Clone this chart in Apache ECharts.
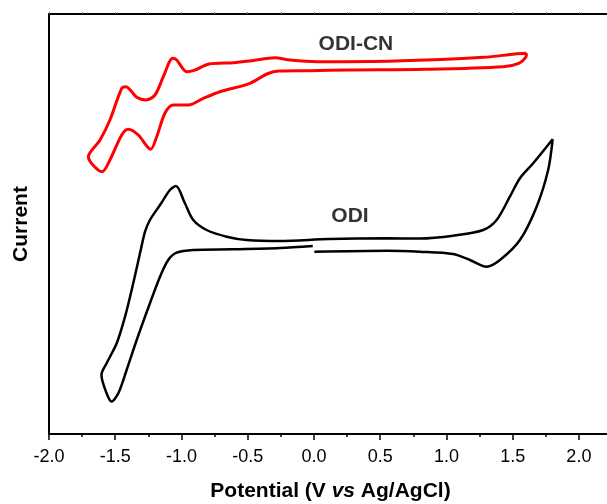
<!DOCTYPE html>
<html>
<head>
<meta charset="utf-8">
<script src="https://cdn.jsdelivr.net/npm/echarts@6/dist/echarts.min.js"></script>
<style>
	html,body{margin:0;padding:0;background:#fff;}
	#cvMain{width:607px;height:504px;}
</style>
</head>
<body>
<div id="cvMain"></div>
<script>
// potential (V vs Ag/AgCl), current (arb. units)
var odiCnCurve = [
	[1.604,38.07],[1.517,38.0],[1.283,37.67],[0.611,37.3],[0.026,37.23],[-0.181,37.4],
	[-0.294,37.63],[-0.471,37.33],[-0.609,37.13],[-0.792,37.0],[-0.911,36.33],[-0.961,36.23],
	[-1.036,37.4],[-1.066,37.57],[-1.137,35.73],[-1.2,33.9],[-1.268,33.4],[-1.338,33.67],
	[-1.419,34.73],[-1.451,34.57],[-1.54,31.4],[-1.615,29.4],[-1.703,27.73],
	[-1.598,26.23],[-1.54,27.4],[-1.451,29.9],[-1.402,30.47],[-1.326,29.9],[-1.258,28.73],
	[-1.232,28.47],[-1.187,29.73],[-1.125,32.07],[-1.062,32.9],[-0.949,32.9],[-0.835,33.57],
	[-0.709,34.23],[-0.483,35.07],[-0.355,36.0],[-0.266,36.3],[-0.03,36.33],[0.26,36.4],
	[0.845,36.47],[1.429,36.73],[1.546,37.07],[1.6,37.7],[1.604,38.07]
];
var odiCurve = [
	[-0.009,18.8],[-0.257,18.6],[-0.617,18.47],[-0.911,18.4],[-1.036,18.13],[-1.1,17.4],
	[-1.162,15.73],[-1.238,13.07],[-1.338,9.4],[-1.414,6.4],[-1.477,4.07],[-1.528,3.25],
	[-1.565,4.07],[-1.604,5.9],[-1.565,7.07],[-1.489,9.07],[-1.426,11.73],[-1.364,15.07],
	[-1.313,18.07],[-1.275,20.23],[-1.238,21.4],[-1.162,22.9],[-1.087,24.4],[-1.042,24.8],
	[-0.974,23.07],[-0.911,21.4],[-0.81,20.4],[-0.659,19.73],[-0.508,19.4],[-0.257,19.3],
	[0.113,19.5],[0.551,19.57],[0.8,19.55],[1.051,19.83],[1.278,20.4],[1.379,21.4],
	[1.479,23.73],[1.555,25.57],[1.655,27.07],[1.802,29.47],[1.768,26.4],[1.681,22.73],
	[1.555,19.4],[1.404,17.4],[1.303,16.73],[1.177,17.4],[1.051,18.0],[0.8,18.23],
	[0.551,18.33],[0.003,18.23]
];
var curveLabels = [
	['ODI-CN',0.317,39.0],
	['ODI',0.272,21.8]
];
var xTicks = {min:-2, max:2.25, step:0.5};

var init = function(){
	var font = "'Liberation Sans', Arial, sans-serif";
	var myChart = echarts.init(document.getElementById('cvMain'));
	var option = {
		animation:false,
		grid:{left:49, top:14, width:563, height:420, containLabel:false, outerBoundsMode:'none'},
		xAxis:[
			{
				type:'value',
				min:xTicks.min,
				max:xTicks.max,
				interval:xTicks.step,
				name:'Potential (V {i|vs} Ag/AgCl)',
				nameLocation:'middle',
				nameGap:47,
				nameTextStyle:{
					fontFamily:font, fontSize:21, fontWeight:'bold', color:'#000',
					rich:{i:{fontFamily:font, fontSize:21, fontWeight:'bold', fontStyle:'italic', color:'#000'}}
				},
				axisLine:{onZero:false, lineStyle:{color:'#000', width:2}},
				axisTick:{length:6, lineStyle:{color:'#000', width:1.5}},
				minorTick:{show:true, splitNumber:2, length:3, lineStyle:{color:'#000', width:1.5}},
				axisLabel:{
					margin:14, fontFamily:font, fontSize:18, color:'#000',
					showMaxLabel:false,
					formatter:function(v){ return v.toFixed(1); }
				},
				splitLine:{show:false}
			},
			{
				type:'value',
				position:'top',
				min:xTicks.min,
				max:xTicks.max,
				interval:0.25,
				axisLine:{onZero:false, lineStyle:{color:'#000', width:2}},
				axisTick:{length:2, lineStyle:{color:'#777', width:1}},
				axisLabel:{show:false},
				splitLine:{show:false}
			}
		],
		yAxis:{
			type:'value',
			min:0,
			max:42,
			name:'Current',
			nameLocation:'middle',
			nameGap:17,
			nameTextStyle:{fontFamily:font, fontSize:21, fontWeight:'bold', color:'#000'},
			axisLine:{show:true, onZero:false, lineStyle:{color:'#000', width:2}},
			axisTick:{show:false},
			axisLabel:{show:false},
			splitLine:{show:false}
		},
		series:[
			{
				name:'ODI-CN',
				type:'line',
				data:odiCnCurve,
				smooth:0.3,
				showSymbol:false,
				lineStyle:{color:'#ff0000', width:3}
			},
			{
				name:'ODI',
				type:'line',
				data:odiCurve,
				smooth:0.3,
				showSymbol:false,
				lineStyle:{color:'#000', width:2.5}
			},
			{
				type:'scatter',
				symbolSize:0,
				silent:true,
				data:curveLabels.map(function(d){ return {name:d[0], value:[d[1], d[2]]}; }),
				label:{
					show:true,
					position:'inside',
					formatter:'{b}',
					fontFamily:font, fontSize:21, fontWeight:'bold', color:'#000'
				}
			}
		]
	};
	myChart.setOption(option);
}

init();
</script>
</body>
</html>
